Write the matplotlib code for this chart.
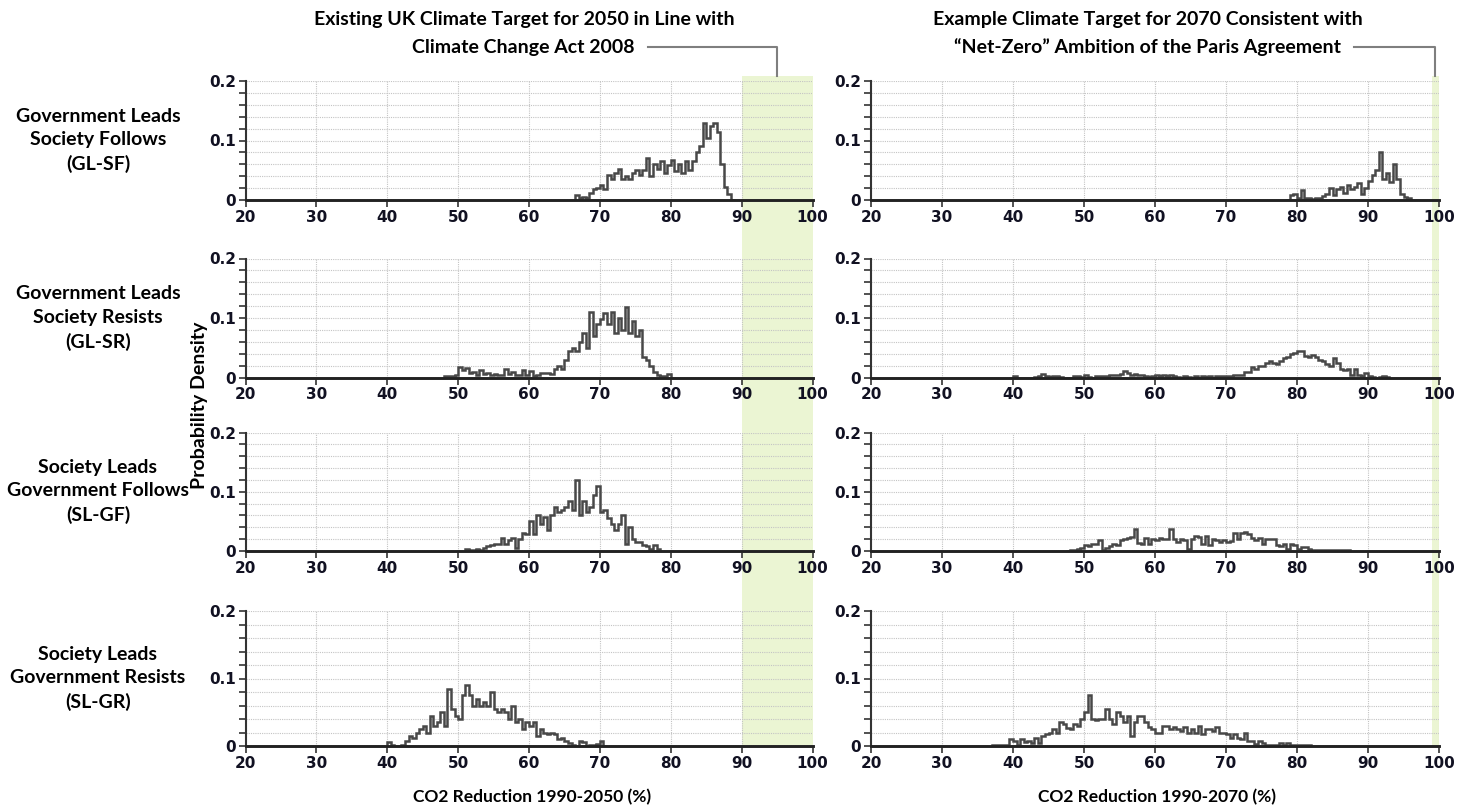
import numpy as np
import matplotlib
matplotlib.use("Agg")
import matplotlib.pyplot as plt
from matplotlib.lines import Line2D
from matplotlib.patches import Rectangle
from matplotlib.transforms import blended_transform_factory

# ---- data: probability density per 0.5 % bin ----
bin_width = 0.5

glsf_2050_start = 66.5
glsf_2050 = [0.008, 0.004, 0.005, 0.004, 0.012, 0.018, 0.02, 0.025, 0.018, 0.042,
             0.035, 0.045, 0.052, 0.035, 0.04, 0.035, 0.045, 0.05, 0.042, 0.05,
             0.07, 0.04, 0.06, 0.052, 0.065, 0.045, 0.058, 0.068, 0.048, 0.06,
             0.045, 0.065, 0.05, 0.065, 0.08, 0.09, 0.13, 0.105, 0.125, 0.13,
             0.115, 0.06, 0.022, 0.01, 0.0]

glsf_2070_start = 78.5
glsf_2070 = [0.0, 0.008, 0.01, 0.004, 0.016, 0.004, 0.003, 0.002, 0.003, 0.003,
             0.006, 0.01, 0.02, 0.008, 0.018, 0.022, 0.012, 0.026, 0.018, 0.022,
             0.028, 0.01, 0.02, 0.032, 0.042, 0.05, 0.08, 0.035, 0.045, 0.03,
             0.06, 0.035, 0.01, 0.005, 0.003]

glsr_2050_start = 48.0
glsr_2050 = [0.003, 0.003, 0.002, 0.004, 0.018, 0.012, 0.016, 0.008, 0.01, 0.005,
             0.012, 0.006, 0.008, 0.005, 0.006, 0.004, 0.005, 0.014, 0.006, 0.01,
             0.005, 0.005, 0.012, 0.004, 0.011, 0.002, 0.004, 0.008, 0.007, 0.008,
             0.006, 0.015, 0.02, 0.014, 0.03, 0.045, 0.05, 0.045, 0.06, 0.075,
             0.05, 0.11, 0.07, 0.09, 0.098, 0.108, 0.09, 0.11, 0.075, 0.1,
             0.08, 0.118, 0.075, 0.095, 0.07, 0.08, 0.035, 0.03, 0.02, 0.01,
             0.004, 0.002, 0.003, 0.006]

glsr_2070_start = 39.5
glsr_2070 = [0.0, 0.002, 0.0, 0.0, 0.0, 0.0, 0.0, 0.001, 0.003, 0.006,
             0.002, 0.001, 0.003, 0.003, 0.001, 0.0, 0.0, 0.0, 0.002, 0.003,
             0.001, 0.004, 0.001, 0.0, 0.002, 0.003, 0.003, 0.002, 0.004, 0.005,
             0.004, 0.006, 0.011, 0.008, 0.005, 0.006, 0.004, 0.005, 0.002, 0.001,
             0.002, 0.004, 0.002, 0.004, 0.002, 0.005, 0.003, 0.001, 0.0, 0.002,
             0.001, 0.0, 0.002, 0.0, 0.002, 0.001, 0.002, 0.0, 0.002, 0.002,
             0.003, 0.003, 0.002, 0.004, 0.004, 0.004, 0.01, 0.01, 0.018, 0.014,
             0.02, 0.02, 0.025, 0.028, 0.025, 0.022, 0.028, 0.032, 0.035, 0.04,
             0.041, 0.045, 0.045, 0.036, 0.035, 0.038, 0.035, 0.03, 0.028, 0.022,
             0.02, 0.032, 0.025, 0.015, 0.012, 0.015, 0.005, 0.015, 0.004, 0.003,
             0.008, 0.002, 0.001, 0.0, 0.001, 0.002, 0.001]

slgf_2050_start = 51.0
slgf_2050 = [0.003, 0.001, 0.002, 0.003, 0.001, 0.005, 0.008, 0.01, 0.011, 0.012,
             0.022, 0.012, 0.018, 0.022, 0.005, 0.02, 0.03, 0.028, 0.05, 0.028,
             0.06, 0.045, 0.058, 0.035, 0.06, 0.075, 0.065, 0.07, 0.075, 0.085,
             0.07, 0.12, 0.06, 0.085, 0.065, 0.075, 0.095, 0.11, 0.065, 0.07,
             0.055, 0.045, 0.035, 0.045, 0.06, 0.012, 0.04, 0.02, 0.015, 0.016,
             0.01, 0.008, 0.004, 0.01, 0.003]

slgf_2070_start = 47.5
slgf_2070 = [0.0, 0.001, 0.002, 0.003, 0.005, 0.01, 0.008, 0.012, 0.012, 0.018,
             0.002, 0.005, 0.009, 0.012, 0.01, 0.018, 0.02, 0.022, 0.024, 0.037,
             0.013, 0.012, 0.022, 0.012, 0.02, 0.018, 0.022, 0.02, 0.02, 0.037,
             0.02, 0.015, 0.02, 0.018, 0.003, 0.02, 0.025, 0.024, 0.012, 0.025,
             0.01, 0.02, 0.019, 0.016, 0.018, 0.016, 0.017, 0.03, 0.02, 0.03,
             0.032, 0.028, 0.022, 0.018, 0.022, 0.012, 0.02, 0.02, 0.021, 0.01,
             0.008, 0.012, 0.004, 0.012, 0.01, 0.003, 0.006, 0.006, 0.003, 0.002,
             0.002, 0.002, 0.002, 0.001, 0.001, 0.001, 0.001, 0.002, 0.001, 0.001]

slgr_2050_start = 40.0
slgr_2050 = [0.006, 0.001, 0.0, 0.0, 0.002, 0.008, 0.015, 0.012, 0.02, 0.025,
             0.03, 0.02, 0.045, 0.03, 0.035, 0.05, 0.03, 0.085, 0.055, 0.045,
             0.04, 0.075, 0.09, 0.075, 0.06, 0.07, 0.06, 0.065, 0.06, 0.08,
             0.055, 0.05, 0.055, 0.05, 0.04, 0.06, 0.035, 0.04, 0.025, 0.035,
             0.03, 0.035, 0.015, 0.025, 0.02, 0.018, 0.02, 0.018, 0.01, 0.012,
             0.008, 0.004, 0.002, 0.0, 0.008, 0.006, 0.0, 0.002, 0.002, 0.003,
             0.007, 0.0]

slgr_2070_start = 37.0
slgr_2070 = [0.002, 0.001, 0.001, 0.001, 0.002, 0.01, 0.008, 0.002, 0.01, 0.006,
             0.008, 0.004, 0.012, 0.005, 0.015, 0.018, 0.02, 0.025, 0.02, 0.035,
             0.032, 0.027, 0.025, 0.032, 0.03, 0.04, 0.05, 0.075, 0.04, 0.038,
             0.04, 0.04, 0.055, 0.04, 0.032, 0.05, 0.045, 0.035, 0.045, 0.015,
             0.035, 0.045, 0.045, 0.035, 0.028, 0.025, 0.02, 0.02, 0.03, 0.03,
             0.025, 0.028, 0.025, 0.022, 0.028, 0.02, 0.025, 0.02, 0.03, 0.018,
             0.025, 0.025, 0.022, 0.028, 0.02, 0.02, 0.018, 0.012, 0.018, 0.012,
             0.01, 0.02, 0.008, 0.008, 0.003, 0.008, 0.005, 0.001, 0.002, 0.002,
             0.002, 0.004, 0.002, 0.004, 0.002, 0.002, 0.002, 0.002, 0.002, 0.002]

scenario_labels = ["Government Leads\nSociety Follows\n(GL-SF)",
                   "Government Leads\nSociety Resists\n(GL-SR)",
                   "Society Leads\nGovernment Follows\n(SL-GF)",
                   "Society Leads\nGovernment Resists\n(SL-GR)"]
left_series = [(glsf_2050_start, glsf_2050), (glsr_2050_start, glsr_2050),
               (slgf_2050_start, slgf_2050), (slgr_2050_start, slgr_2050)]
right_series = [(glsf_2070_start, glsf_2070), (glsr_2070_start, glsr_2070),
                (slgf_2070_start, slgf_2070), (slgr_2070_start, slgr_2070)]

target_2050 = (90, 100)
target_2070 = (99, 100)

W, H = 1472, 807
fig = plt.figure(figsize=(W / 100, H / 100), dpi=100)

# axes rows in pixels (top, bottom)
rows = [(81, 200), (258.5, 377.5), (432.5, 551), (611, 746)]
cols = [(245.5, 812.5), (871, 1439)]

line_col = "#484848"
tick_font = dict(family="DejaVu Sans", weight="bold", size=11)
lab_font = dict(family="Lato", weight="bold")


def make_ax(col, row):
    x0, x1 = cols[col]
    y0, y1 = rows[row]
    ax = fig.add_axes([x0 / W, 1 - y1 / H, (x1 - x0) / W, (y1 - y0) / H])
    ax.set_facecolor("none")
    ax.set_xlim(20, 100)
    ax.set_ylim(0, 0.2)
    ax.set_xticks(np.arange(20, 101, 10))
    ax.set_yticks([0, 0.1, 0.2])
    ax.set_yticklabels(["0", "0.1", "0.2"])
    ax.set_yticks(np.arange(0, 0.201, 0.02), minor=True)
    ax.grid(True, which="both", axis="y", color="#c4c4c4", lw=0.8, ls=(0, (1, 1)))
    ax.grid(True, which="major", axis="x", color="#c4c4c4", lw=0.8, ls=(0, (1, 1)))
    for s in ["top", "right"]:
        ax.spines[s].set_visible(False)
    ax.spines["left"].set_color("#333333")
    ax.spines["left"].set_linewidth(1.5)
    ax.spines["bottom"].set_color("#222222")
    ax.spines["bottom"].set_linewidth(2.0)
    ax.tick_params(axis="both", which="both", direction="out", length=5,
                   width=1.2, color="#333333", labelcolor="#111122", pad=2)
    for lab in ax.get_xticklabels() + ax.get_yticklabels():
        lab.set_fontproperties(matplotlib.font_manager.FontProperties(**tick_font))
    ax.set_axisbelow(True)
    return ax


axes = {}
for r in range(4):
    for c, series in enumerate([left_series, right_series]):
        ax = make_ax(c, r)
        start, vals = series[r]
        edges = start + bin_width * np.arange(len(vals) + 1)
        ax.plot([20, 100], [0, 0], color=line_col, lw=1.8, clip_on=False)
        ax.stairs(vals, edges, baseline=0, color=line_col, lw=1.8)
        axes[(r, c)] = ax
    yc = 1 - (rows[r][0] + rows[r][1]) / 2 / H
    fig.text(98 / W, yc, scenario_labels[r], ha="center", va="center",
             fontsize=14, linespacing=1.45, color="black", **lab_font)

# green target bands
for c, band in enumerate([target_2050, target_2070]):
    tr = blended_transform_factory(axes[(0, c)].transData, fig.transFigure)
    rect = Rectangle((band[0], 1 - 745 / H), band[1] - band[0], (745 - 76) / H,
                     transform=tr, facecolor="#ebf5d3", edgecolor="none", zorder=-1)
    fig.add_artist(rect)

# connectors from titles to bands
conn = [(76.8, 95.0), (88.0, 99.5)]
for c, (xs, xe) in enumerate(conn):
    tr = blended_transform_factory(axes[(0, c)].transData, fig.transFigure)
    fig.add_artist(Line2D([xs, xe, xe], [1 - 47 / H, 1 - 47 / H, 1 - 76 / H],
                          transform=tr, color="#7f7f7f", lw=1.5))

# titles
fig.text(524 / W, 1 - 20 / H, "Existing UK Climate Target for 2050 in Line with",
         ha="center", va="center", fontsize=14, **lab_font)
fig.text(523 / W, 1 - 47 / H, "Climate Change Act 2008",
         ha="center", va="center", fontsize=14, **lab_font)
fig.text(1148 / W, 1 - 20 / H, "Example Climate Target for 2070 Consistent with",
         ha="center", va="center", fontsize=14, **lab_font)
fig.text(1148 / W, 1 - 47 / H, "\u201cNet-Zero\u201d Ambition of the Paris Agreement",
         ha="center", va="center", fontsize=14, **lab_font)

fig.text(200 / W, 1 - 405 / H, "Probability Density", rotation=90,
         ha="center", va="center", fontsize=14, **lab_font)
fig.text(532 / W, 1 - 797 / H, "CO2 Reduction 1990-2050 (%)",
         ha="center", va="center", fontsize=12.5, **lab_font)
fig.text(1157 / W, 1 - 797 / H, "CO2 Reduction 1990-2070 (%)",
         ha="center", va="center", fontsize=12.5, **lab_font)

fig.savefig("out.png", dpi=100)
